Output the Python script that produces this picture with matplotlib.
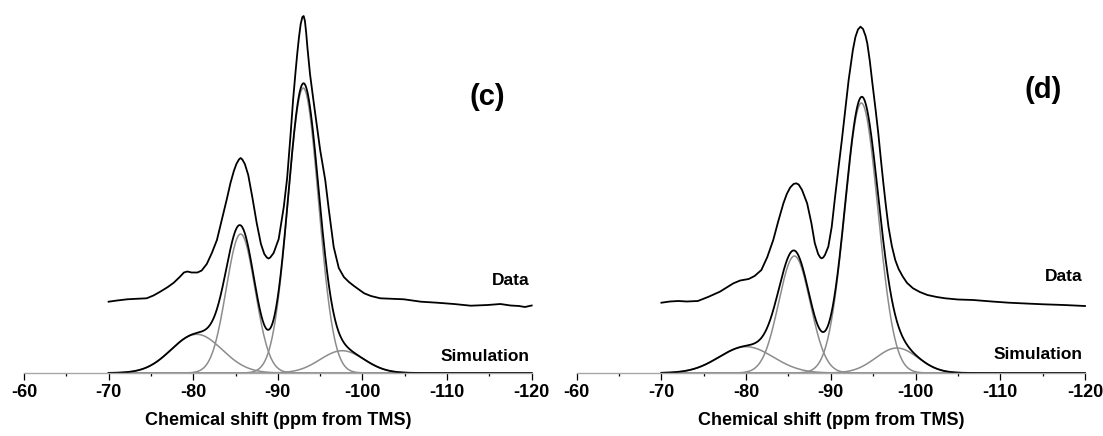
import numpy as np
import matplotlib
matplotlib.use('Agg')
import matplotlib.pyplot as plt
from matplotlib.ticker import MultipleLocator

from matplotlib import rc
rc('font', **{'family': 'Liberation Sans', 'weight': 'bold', 'size': 12})

# measured spectrum (c), intensity in arbitrary units, offset above the fit
c_shift = [-70.0, -71.0, -72.2, -73.5, -74.5, -75.3, -76.1, -77.0, -77.7, -78.4,
           -78.9, -79.3, -79.8, -80.5, -81.0, -81.6, -82.2, -82.8, -83.2, -83.6,
           -84.0, -84.4, -84.8, -85.1, -85.4, -85.6, -85.8, -86.1, -86.5, -87.0,
           -87.5, -88.0, -88.4, -88.7, -88.9, -89.1, -89.5, -90.1, -90.7, -91.1,
           -91.5, -91.8, -92.1, -92.3, -92.5, -92.7, -92.9, -93.05, -93.2, -93.35,
           -93.5, -93.8, -94.2, -94.6, -95.0, -95.6, -96.0, -96.6, -97.2, -97.8,
           -98.4, -99.0, -100.2, -101.0, -102.1, -104.9, -106.9, -108.8, -110.8, -112.8,
           -114.8, -116.3, -117.5, -118.5, -119.2, -120.0]
c_data = [71.3, 72.5, 73.7, 74.3, 74.7, 77.5, 81.3, 86.0, 90.3, 96.0,
          100.5, 101.5, 100.5, 100.5, 102.5, 109.0, 120.0, 133.0, 147.0, 161.0,
          175.0, 190.0, 202.0, 209.0, 213.5, 215.0, 213.5, 209.0, 198.0, 175.0,
          150.0, 129.0, 119.0, 115.5, 114.5, 115.5, 120.0, 134.0, 166.0, 195.0,
          238.0, 273.0, 302.0, 320.0, 336.0, 349.0, 356.0, 357.0, 352.0, 340.0,
          325.0, 299.0, 273.0, 248.0, 223.0, 193.0, 165.0, 126.0, 105.0, 96.0,
          91.0, 87.0, 79.7, 77.0, 74.7, 73.7, 71.3, 70.3, 69.0, 67.3,
          68.0, 69.0, 67.5, 67.0, 66.0, 67.5]

# fitted components (c): position (ppm), height, width (sigma, ppm)
c_pos = [-80.4, -85.6, -93.0, -97.6]
c_height = [38.7, 139.0, 285.0, 22.3]
c_sigma = [3.0, 1.7, 1.8, 2.6]

# measured spectrum (d)
d_shift = [-70.0, -71.0, -72.0, -73.0, -74.3, -75.5, -76.9, -78.5, -79.3, -80.3,
           -81.0, -81.8, -82.5, -83.2, -83.8, -84.4, -84.8, -85.2, -85.6, -85.9,
           -86.2, -86.6, -87.2, -87.7, -88.1, -88.5, -88.75, -88.9, -89.1, -89.3,
           -89.7, -90.1, -90.5, -90.9, -91.3, -91.7, -92.1, -92.6, -92.9, -93.2,
           -93.5, -93.8, -94.1, -94.3, -94.6, -94.9, -95.3, -95.6, -95.9, -96.2,
           -96.5, -96.8, -97.2, -97.6, -98.0, -98.5, -99.0, -99.7, -100.5, -101.4,
           -102.5, -103.5, -105.0, -106.8, -109.0, -111.0, -113.0, -115.1, -117.5, -120.0]
d_data = [70.3, 71.5, 72.0, 71.5, 72.0, 76.0, 81.3, 89.7, 92.5, 94.0,
          97.0, 103.0, 116.0, 133.0, 152.0, 169.7, 179.0, 185.5, 189.0, 189.7,
          188.5, 183.0, 169.7, 150.0, 130.0, 119.0, 115.5, 114.7, 115.5, 118.0,
          126.3, 146.0, 176.3, 205.0, 233.0, 263.0, 293.0, 323.0, 336.0, 343.5,
          346.3, 344.0, 337.0, 329.7, 312.0, 290.0, 262.0, 239.7, 214.0, 189.7,
          167.0, 146.3, 127.0, 113.0, 104.0, 96.3, 90.0, 84.7, 81.0, 78.0,
          76.0, 74.7, 73.5, 73.0, 71.5, 70.3, 69.5, 68.7, 68.0, 67.0]

d_pos = [-80.0, -85.7, -93.6, -97.8]
d_height = [26.3, 117.0, 270.0, 25.0]
d_sigma = [3.2, 1.85, 1.95, 2.5]


def gauss(x, x0, h, s):
    return h * np.exp(-(x - x0)**2 / (2.0 * s * s))


def panel(ax, shift, data, pos, height, sigma, tag, tag_xy, data_y, sim_y):
    x = np.linspace(-70, -120, 1201)
    comps = [gauss(x, p, h, s) for p, h, s in zip(pos, height, sigma)]
    sim = np.sum(comps, axis=0)

    for c in comps:
        ax.plot(x, c, color='#8c8c8c', lw=1.1, clip_on=False)
    ax.plot(x, sim, color='k', lw=1.3, clip_on=False)
    ax.plot(shift, data, color='k', lw=1.3, clip_on=False, solid_joinstyle='round')

    ax.set_xlim(-60, -120)
    ax.set_ylim(0, 373)
    for s in ['left', 'right', 'top']:
        ax.spines[s].set_visible(False)
    ax.spines['bottom'].set_color('#a8a8a8')
    ax.spines['bottom'].set_linewidth(1.0)
    ax.set_yticks([])
    ax.xaxis.set_minor_locator(MultipleLocator(5))
    ax.tick_params(axis='x', which='major', length=4.8, width=0.9, color='k',
                   direction='out', labelsize=13, pad=3)
    ax.tick_params(axis='x', which='minor', length=2.0, width=0.9, color='k',
                   direction='out')
    ax.set_xticks(range(-60, -121, -10))
    ax.set_xticklabels(['%d' % v for v in range(-60, -121, -10)], fontweight='bold')
    ax.set_xlabel('Chemical shift (ppm from TMS)', fontsize=13, fontweight='bold',
                  labelpad=8)

    ax.text(-119.7, data_y, 'Data', ha='right', va='center', fontsize=12.5,
            fontweight='bold')
    ax.text(-119.7, sim_y, 'Simulation', ha='right', va='center', fontsize=12.5,
            fontweight='bold')
    ax.text(tag_xy[0], tag_xy[1], tag, ha='center', va='center', fontsize=21,
            fontweight='bold')


fig = plt.figure(figsize=(11.03, 4.36), dpi=100)
ax1 = fig.add_axes([24 / 1103., 1 - 373 / 436., 507.7 / 1103., 373 / 436.])
ax2 = fig.add_axes([576.7 / 1103., 1 - 373 / 436., 508.3 / 1103., 373 / 436.])

panel(ax1, c_shift, c_data, c_pos, c_height, c_sigma, '(c)', (-114.7, 276), 93, 16.3)
panel(ax2, d_shift, d_data, d_pos, d_height, d_sigma, '(d)', (-115.1, 283), 96.3, 19)

fig.savefig('out.png', dpi=100)
